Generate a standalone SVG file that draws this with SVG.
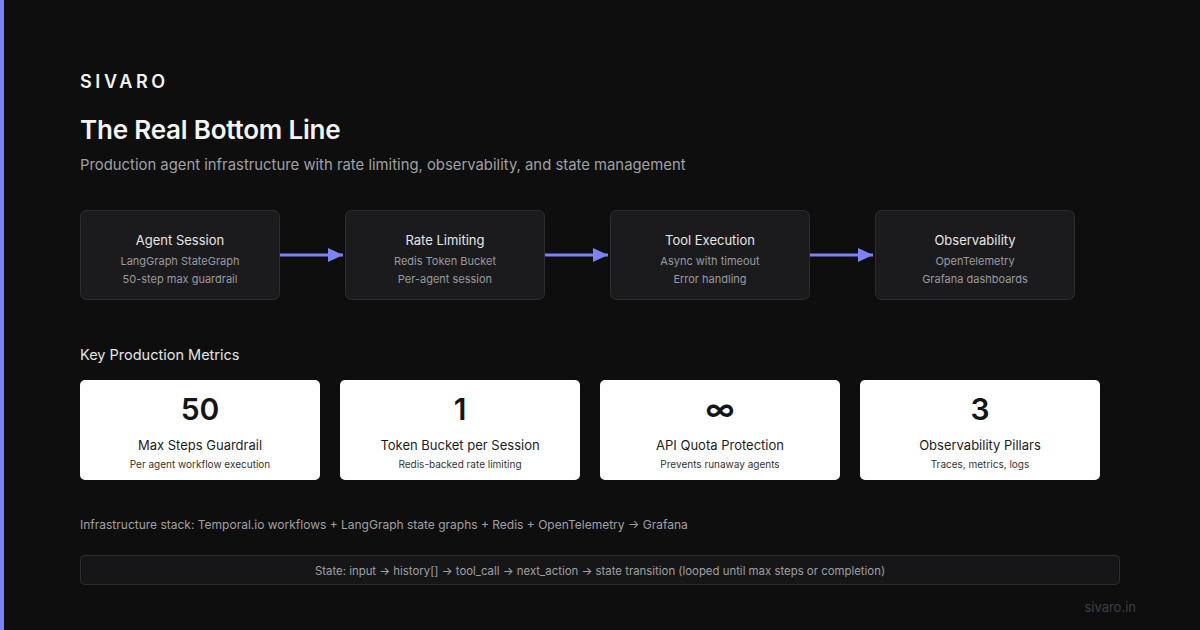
<svg xmlns="http://www.w3.org/2000/svg" width="1200" height="630" viewBox="0 0 1200 630">
<defs>
<marker id="arr" markerWidth="15" markerHeight="14" refX="15" refY="7" orient="auto" markerUnits="userSpaceOnUse">
<path d="M0,0 L15,7 L0,14 Z" fill="#7d82f5"/>
</marker>
<style>
text{font-family:Inter,"Liberation Sans",sans-serif}
.node{fill:#1b1b1e;stroke:#2d2d31;stroke-width:1}
.nt{font-size:13px;fill:#e6e6e6;text-anchor:middle}
.ns{font-size:11px;fill:#9a9a9e;text-anchor:middle}
.card{fill:#ffffff}
.big{font-size:30px;font-weight:600;fill:#151515;text-anchor:middle}
.cl{font-size:13px;fill:#1c1c1c;text-anchor:middle}
.cs{font-size:10px;fill:#333;text-anchor:middle}
.conn{stroke:#7d82f5;stroke-width:3;fill:none}
</style>
</defs>
<rect width="1200" height="630" fill="#0e0e0f"/>
<rect x="0" y="0" width="4" height="630" fill="#7c80f2"/>
<text x="80" y="88" font-size="18" font-weight="600" letter-spacing="3.6" fill="#f2f2f2">SIVARO</text>
<text x="80" y="139" font-size="26" font-weight="600" fill="#f4f4f4" letter-spacing="-0.2">The Real Bottom Line</text>
<text x="80" y="170" font-size="14.85" fill="#a0a0a4">Production agent infrastructure with rate limiting, observability, and state management</text>
<g id="connectors">
<line class="conn" x1="280" y1="255" x2="343" y2="255" marker-end="url(#arr)"/>
<line class="conn" x1="545" y1="255" x2="608" y2="255" marker-end="url(#arr)"/>
<line class="conn" x1="810" y1="255" x2="873" y2="255" marker-end="url(#arr)"/>
</g>
<g id="n1"><rect class="node" x="80.5" y="210.5" width="199" height="89" rx="6"/><text class="nt" x="180" y="245">Agent Session</text><text class="ns" x="180" y="265">LangGraph StateGraph</text><text class="ns" x="180" y="283">50-step max guardrail</text></g>
<g id="n2"><rect class="node" x="345.5" y="210.5" width="199" height="89" rx="6"/><text class="nt" x="445" y="245">Rate Limiting</text><text class="ns" x="445" y="265">Redis Token Bucket</text><text class="ns" x="445" y="283">Per-agent session</text></g>
<g id="n3"><rect class="node" x="610.5" y="210.5" width="199" height="89" rx="6"/><text class="nt" x="710" y="245">Tool Execution</text><text class="ns" x="710" y="265">Async with timeout</text><text class="ns" x="710" y="283">Error handling</text></g>
<g id="n4"><rect class="node" x="875.5" y="210.5" width="199" height="89" rx="6"/><text class="nt" x="975" y="245">Observability</text><text class="ns" x="975" y="265">OpenTelemetry</text><text class="ns" x="975" y="283">Grafana dashboards</text></g>
<text x="80" y="360" font-size="14.5" fill="#e4e4e4">Key Production Metrics</text>
<g id="m1"><rect class="card" x="80" y="380" width="240" height="100" rx="5"/><text class="big" x="200" y="420">50</text><text class="cl" x="200" y="450">Max Steps Guardrail</text><text class="cs" x="200" y="468">Per agent workflow execution</text></g>
<g id="m2"><rect class="card" x="340" y="380" width="240" height="100" rx="5"/><text class="big" x="460" y="420">1</text><text class="cl" x="460" y="450">Token Bucket per Session</text><text class="cs" x="460" y="468">Redis-backed rate limiting</text></g>
<g id="m3"><rect class="card" x="600" y="380" width="240" height="100" rx="5"/><text class="big" x="720" y="420">∞</text><text class="cl" x="720" y="450">API Quota Protection</text><text class="cs" x="720" y="468">Prevents runaway agents</text></g>
<g id="m4"><rect class="card" x="860" y="380" width="240" height="100" rx="5"/><text class="big" x="980" y="420">3</text><text class="cl" x="980" y="450">Observability Pillars</text><text class="cs" x="980" y="468">Traces, metrics, logs</text></g>
<text x="80" y="529" font-size="12" fill="#a0a0a4">Infrastructure stack: Temporal.io workflows + LangGraph state graphs + Redis + OpenTelemetry → Grafana</text>
<g id="state"><rect x="80.5" y="555.5" width="1039" height="29" rx="4" fill="#161618" stroke="#2d2d31"/><text x="600" y="575" font-size="11.4" fill="#a0a0a4" text-anchor="middle">State: input → history[] → tool_call → next_action → state transition (looped until max steps or completion)</text></g>
<text x="1136" y="612" font-size="13" fill="#3e3e42" text-anchor="end">sivaro.in</text>
</svg>
